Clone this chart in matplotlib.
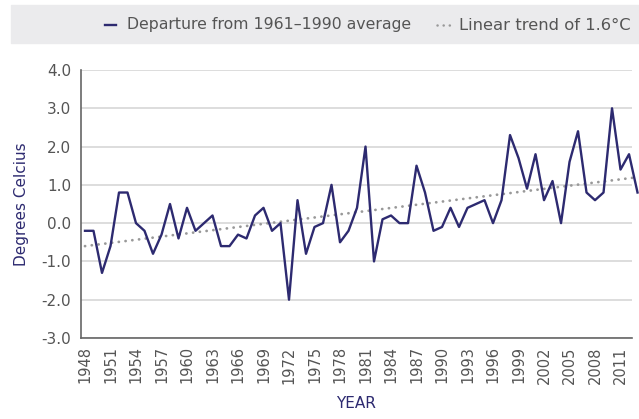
"""
Temperature departure from the 1961-1990 average, with linear trend
"""

import numpy as np
import matplotlib

matplotlib.use("Agg")
import matplotlib.pyplot as plt
from matplotlib.lines import Line2D
from matplotlib.patches import Rectangle
from matplotlib.transforms import ScaledTranslation

# --- data ---
years = list(range(1948, 2014))
departure = [
    -0.2, -0.2, -1.3, -0.6, 0.8, 0.8, 0.0, -0.2, -0.8, -0.3,   # 1948-1957
    0.5, -0.4, 0.4, -0.2, 0.0, 0.2, -0.6, -0.6, -0.3, -0.4,    # 1958-1967
    0.2, 0.4, -0.2, 0.0, -2.0, 0.6, -0.8, -0.1, 0.0, 1.0,      # 1968-1977
    -0.5, -0.2, 0.4, 2.0, -1.0, 0.1, 0.2, 0.0, 0.0, 1.5,       # 1978-1987
    0.8, -0.2, -0.1, 0.4, -0.1, 0.4, 0.5, 0.6, 0.0, 0.6,       # 1988-1997
    2.3, 1.7, 0.9, 1.8, 0.6, 1.1, 0.0, 1.6, 2.4, 0.8,          # 1998-2007
    0.6, 0.8, 3.0, 1.4, 1.8, 0.8,                              # 2008-2013
]
trend_years = [1948, 2013]
trend_values = [-0.6, 1.2]

tick_years = list(range(1948, 2012, 3))
y_ticks = [4.0, 3.0, 2.0, 1.0, 0.0, -1.0, -2.0, -3.0]

NAVY = "#2d2a70"
GREY_TXT = "#555555"
DOTS = (0, (0.05, 2.4))
W, H = 639, 419


def fx(px):
    return px / W


def fy(py):
    return 1 - py / H


fig = plt.figure(figsize=(W / 100, H / 100), dpi=100)
ax = fig.add_axes([fx(81), fy(338), fx(632) - fx(81), fy(70) - fy(338)])

ax.plot(years, departure, color=NAVY, lw=1.7, clip_on=False, zorder=3)
ax.plot(trend_years, trend_values, color="#999999", lw=2.0,
        linestyle=DOTS, dash_capstyle="round", clip_on=False, zorder=2)

ax.set_xlim(1947.53, 2012.35)
ax.set_ylim(-3.0, 4.0)

ax.set_yticks(y_ticks)
ax.set_yticklabels([f"{v:.1f}" for v in y_ticks])
ax.set_xticks(tick_years)
ax.set_xticklabels([str(y) for y in tick_years], rotation=90)
# labels sit a little right of the data points
offset = ScaledTranslation(7 / 100, 0, fig.dpi_scale_trans)
for lab in ax.get_xticklabels():
    lab.set_transform(lab.get_transform() + offset)

ax.tick_params(axis="both", length=0, colors=GREY_TXT, labelsize=10)
ax.tick_params(axis="y", pad=7, labelsize=11)
ax.tick_params(axis="x", pad=6, labelsize=10.5)

ax.grid(axis="y", color="#dddddd", lw=1.4)
ax.set_axisbelow(True)
for side in ["top", "right"]:
    ax.spines[side].set_visible(False)
for side in ["left", "bottom"]:
    ax.spines[side].set_color("#666666")
    ax.spines[side].set_linewidth(1.2)

ax.set_ylabel("Degrees Celcius", color=NAVY, fontsize=11, labelpad=9)
ax.set_xlabel("YEAR", color=NAVY, fontsize=11, labelpad=9)

# legend band across the top
fig.add_artist(Rectangle((fx(11), fy(43)), 1 - fx(11), fy(5) - fy(43),
                         transform=fig.transFigure, color="#ebebed", zorder=0))
ly = fy(25)
fig.add_artist(Line2D([fx(105), fx(116)], [ly, ly], color=NAVY, lw=1.7,
                      transform=fig.transFigure))
fig.text(fx(127), ly, "Departure from 1961–1990 average", color=GREY_TXT,
         fontsize=11.3, va="center", ha="left")
fig.add_artist(Line2D([fx(437), fx(453)], [ly, ly], color="#999999", lw=1.8,
                      linestyle=DOTS, dash_capstyle="round",
                      transform=fig.transFigure))
fig.text(fx(459), ly, "Linear trend of 1.6°C", color=GREY_TXT,
         fontsize=11.8, va="center", ha="left")

fig.savefig("out.png", dpi=100)
